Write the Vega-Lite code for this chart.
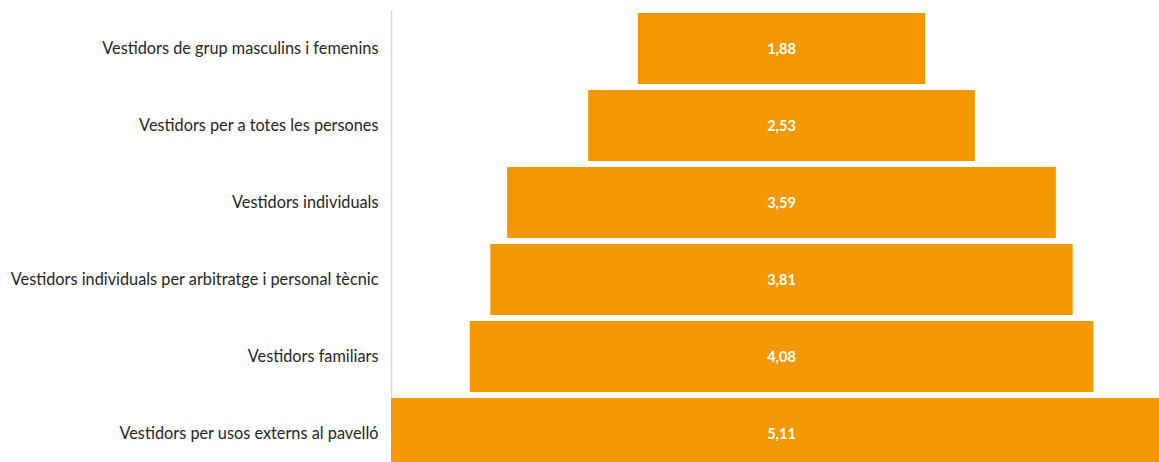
{
  "$schema": "https://vega.github.io/schema/vega-lite/v6.json",
  "width": 781,
  "height": 462,
  "autosize": {"type": "none"},
  "padding": {"left": 391, "top": 10, "right": 0, "bottom": 0},
  "background": "white",
  "data": {"values": [
    {"cat": "Vestidors de grup masculins i femenins", "val": 1.88},
    {"cat": "Vestidors per a totes les persones", "val": 2.53},
    {"cat": "Vestidors individuals", "val": 3.59},
    {"cat": "Vestidors individuals per arbitratge i personal tècnic", "val": 3.81},
    {"cat": "Vestidors familiars", "val": 4.08},
    {"cat": "Vestidors per usos externs al pavelló", "val": 5.11}
  ]},
  "encoding": {
    "y": {"field": "cat", "type": "nominal", "sort": null,
      "scale": {"paddingInner": 0.08, "paddingOuter": 0.04},
      "axis": {"title": null, "ticks": false, "domainColor": "#d9d9d9", "domainWidth": 1.5, "labelFont": "Lato", "labelFontSize": 16.3, "labelColor": "#262626", "labelPadding": 13, "labelLimit": 500}}
  },
  "layer": [
    {"mark": {"type": "bar", "color": "#F39800"},
      "encoding": {"x": {"field": "val", "type": "quantitative", "stack": "center", "scale": {"domain": [0, 5.11], "nice": false}, "axis": null}}},
    {"mark": {"type": "text", "color": "white", "font": "Lato", "fontWeight": "bold", "fontSize": 14.5, "align": "center", "baseline": "middle", "dy": 1.5},
      "encoding": {"x": {"field": "val", "type": "quantitative", "stack": "center", "bandPosition": 0.5},
        "text": {"field": "val", "type": "quantitative", "format": ".2f"}}}
  ],
  "config": {"view": {"stroke": null}, "locale": {"number": {"decimal": ",", "thousands": ".", "grouping": [3], "currency": ["", " €"]}}}
}
